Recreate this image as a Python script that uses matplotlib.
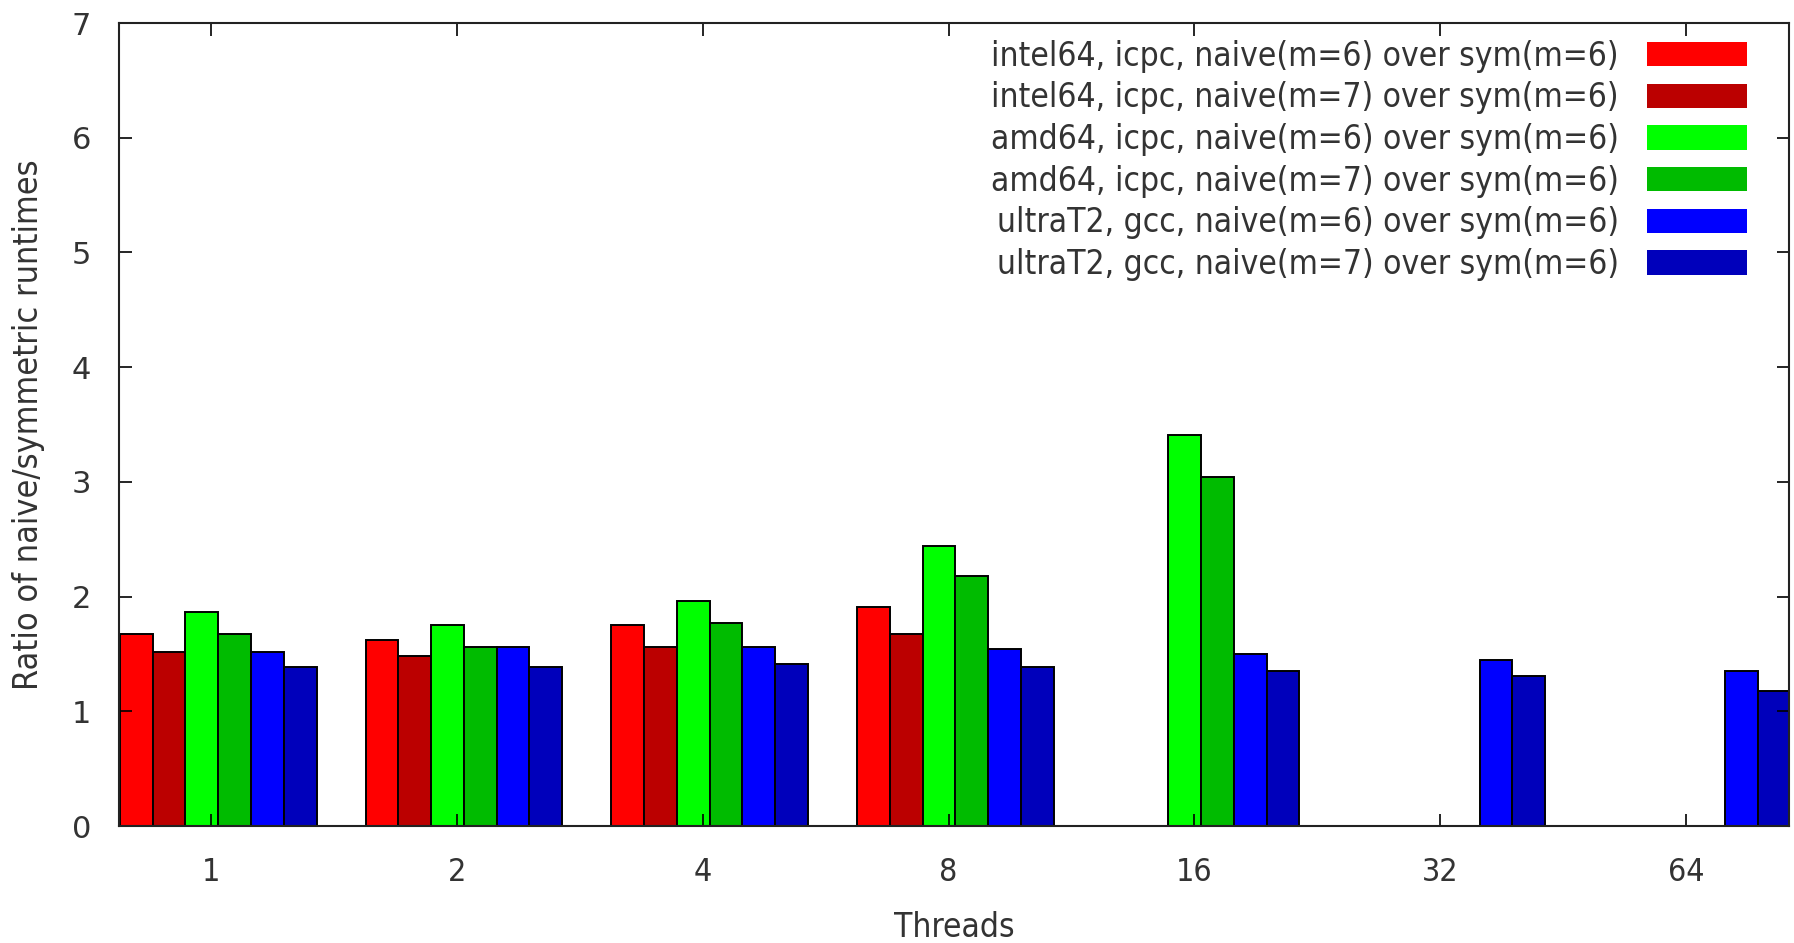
import numpy as np
import matplotlib
matplotlib.use('Agg')
from matplotlib import pyplot as plt
from matplotlib.patches import Patch
from matplotlib import font_manager

# Thread counts on the x axis
threads = ['1', '2', '4', '8', '16', '32', '64']

# Ratios of naive/symmetric runtimes (None = no measurement)
intel_m6 = [1.67, 1.62, 1.75, 1.91, None, None, None]
intel_m7 = [1.52, 1.48, 1.56, 1.67, None, None, None]
amd_m6 = [1.87, 1.75, 1.96, 2.44, 3.41, None, None]
amd_m7 = [1.67, 1.56, 1.77, 2.18, 3.04, None, None]
ultra_m6 = [1.52, 1.56, 1.56, 1.54, 1.50, 1.45, 1.35]
ultra_m7 = [1.39, 1.39, 1.41, 1.39, 1.35, 1.31, 1.18]

labels = ['intel64, icpc, naive(m=6) over sym(m=6)',
          'intel64, icpc, naive(m=7) over sym(m=6)',
          'amd64, icpc, naive(m=6) over sym(m=6)',
          'amd64, icpc, naive(m=7) over sym(m=6)',
          'ultraT2, gcc, naive(m=6) over sym(m=6)',
          'ultraT2, gcc, naive(m=7) over sym(m=6)']
colors = ['#ff0000', '#bb0000', '#00ff00', '#00bb00', '#0000ff', '#0000bb']
series = [intel_m6, intel_m7, amd_m6, amd_m7, ultra_m6, ultra_m7]

names = {f.name for f in font_manager.fontManager.ttflist}
narrow = 'DejaVu Sans'
for cand in ['Liberation Sans Narrow', 'DejaVu Sans Condensed']:
    if cand in names:
        narrow = cand
        break
plt.rcParams['font.family'] = [narrow, 'DejaVu Sans']
plt.rcParams['font.stretch'] = 'condensed'
text_col = '#333333'

fig = plt.figure(figsize=(17.94, 9.43), dpi=100)
ax = fig.add_axes([0.0663, 0.124, 0.9309, 0.8516])

x = np.arange(len(threads))
width = 1 / 7.5
start = -0.372
for i, (vals, col) in enumerate(zip(series, colors)):
    h = np.array([np.nan if v is None else v for v in vals], dtype=float)
    ax.bar(x + start + (i + 0.5) * width, h, width, color=col,
           edgecolor='black', linewidth=1.4)

ax.set_xlim(-0.376, 6.42)
ax.set_ylim(0, 7)
ax.set_xticks(x)
ax.set_xticklabels(threads)
ax.set_yticks(range(8))
ax.tick_params(direction='in', top=True, right=True, length=9, width=1.2,
               labelcolor=text_col)
ax.tick_params(axis='x', labelsize=23, pad=22)
ax.tick_params(axis='y', labelsize=22, pad=27)
for lab in ax.get_yticklabels():
    lab.set_family('DejaVu Sans')
    lab.set_stretch('normal')
    lab.set_horizontalalignment('center')
for s in ax.spines.values():
    s.set_linewidth(1.5)
    s.set_color('#222222')

ax.set_xlabel('Threads', fontsize=24, color=text_col, va='center')
ax.xaxis.set_label_coords(0.5, -0.126)
ax.set_ylabel('Ratio of naive/symmetric runtimes', fontsize=24.5,
              color=text_col, va='center')
ax.yaxis.set_label_coords(-0.054, 0.5)

handles = [Patch(facecolor=c, edgecolor='none') for c in colors]
ax.legend(handles, labels, loc='upper right', frameon=False,
          markerfirst=False, fontsize=24, handlelength=3.0,
          handleheight=0.75, labelspacing=0.26, handletextpad=0.85,
          borderaxespad=0.1, bbox_to_anchor=(0.985, 1.0),
          labelcolor=text_col)

fig.savefig('out.png', dpi=100)
